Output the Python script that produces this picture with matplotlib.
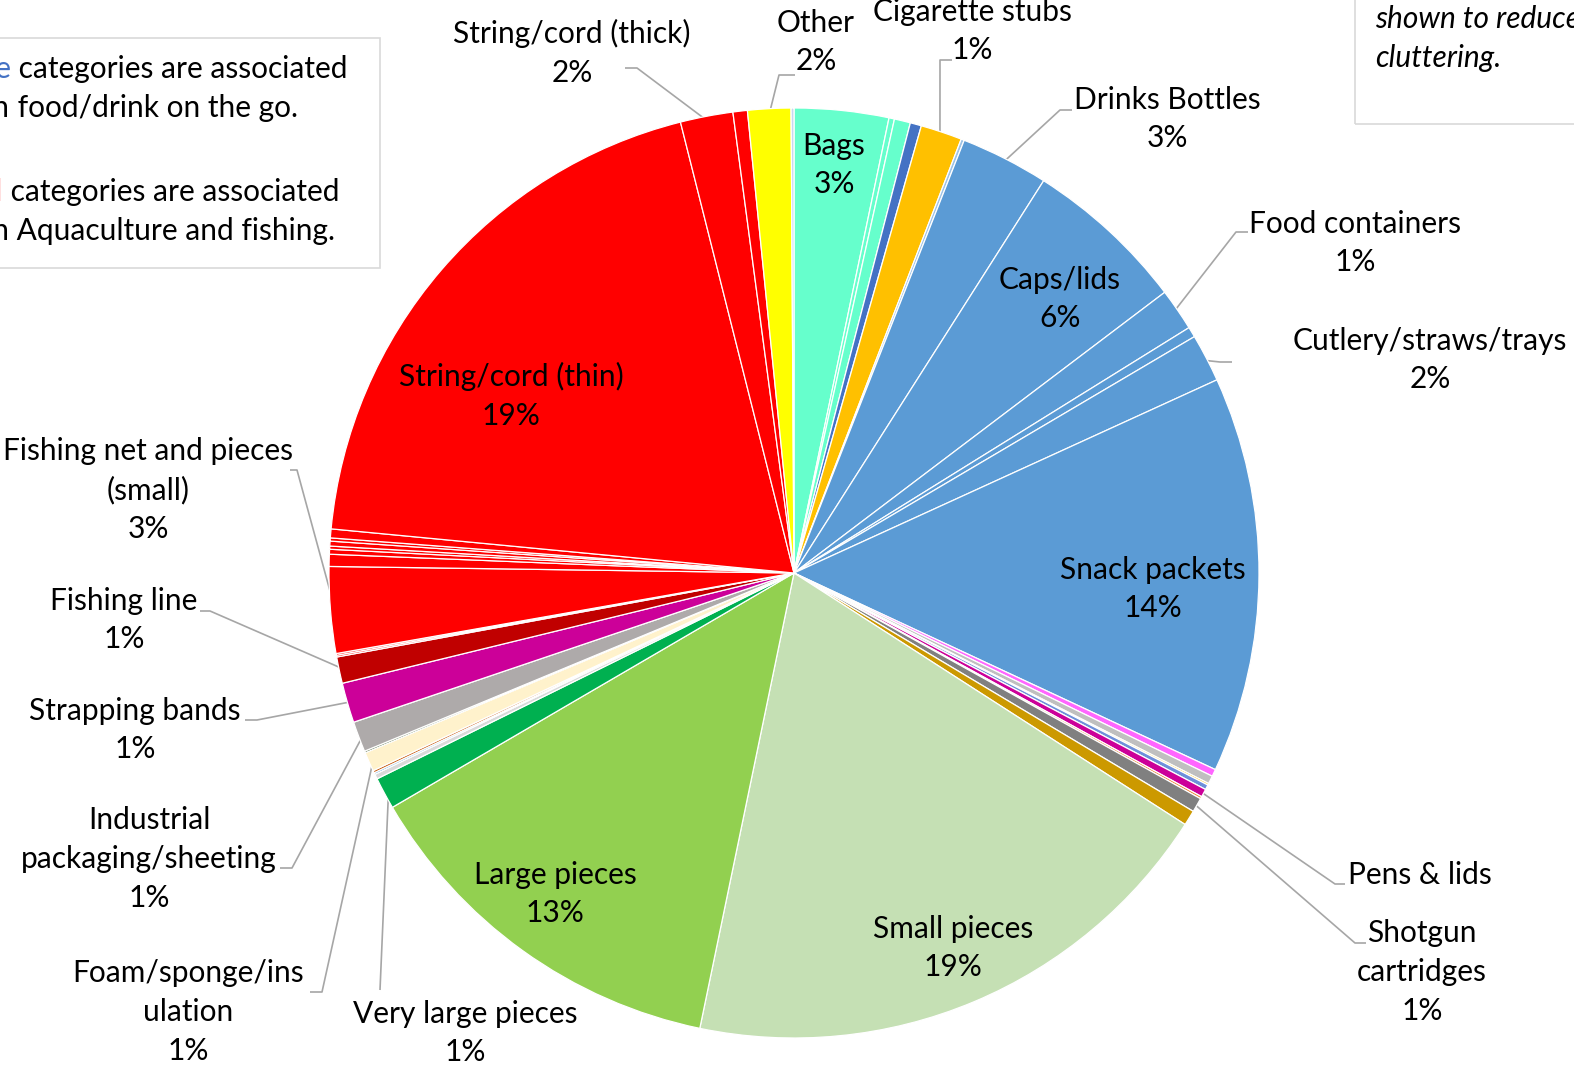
import numpy as np
import matplotlib
matplotlib.use("Agg")
import matplotlib.pyplot as plt

W, H = 1574, 1070
plt.rcParams['font.family'] = ['Lato', 'DejaVu Sans']

# ---- data (share of items, %), clockwise from 12 o'clock ----
categories = [
    "Bags", "Bags (minor a)", "Bags (minor b)", "Balloons", "Cigarette stubs", "Cups",
    "Drinks Bottles", "Caps/lids", "Food containers", "Lolly sticks", "Cutlery/straws/trays",
    "Snack packets", "Cotton buds", "Sanitary", "Lighters", "Toys", "Pens & lids", "Rope",
    "Shotgun cartridges", "Sheeting", "Small pieces", "Large pieces", "Very large pieces",
    "Gloves", "Tape", "Pot pieces", "Foam/sponge/insulation", "Netting", "Industrial packaging/sheeting",
    "Strapping bands", "Fishing line", "Floats", "Crates", "Fishing net and pieces (small)",
    "Fishing net (medium)", "Fishing net (large)", "Lobster pots", "Oyster bags", "Mussel nets",
    "Tags", "String/cord (thin)", "String/cord (thick)", "Rope (large)", "Other", "Unknown",
]
values = [
    3.28, 0.19, 0.56, 0.39, 1.44, 0.11,
    3.06, 5.67, 1.47, 0.36, 1.67,
    13.78, 0.25, 0.28, 0.06, 0.17, 0.28, 0.08,
    0.50, 0.53, 19.17, 13.36, 1.11,
    0.17, 0.06, 0.08, 0.67, 0.06, 1.06,
    1.39, 0.92, 0.06, 0.06, 3.00,
    0.42, 0.17, 0.11, 0.17, 0.11,
    0.31, 19.58, 1.83, 0.50, 1.50, 0.10,
]
colors = [
    "#66FFCC", "#66FFCC", "#66FFCC", "#4472C4", "#FFC000", "#9DC3E6",
    "#5B9BD5", "#5B9BD5", "#5B9BD5", "#5B9BD5", "#5B9BD5",
    "#5B9BD5", "#FF66FF", "#BFBFBF", "#FFC000", "#6D8FD9", "#CC0099", "#ED7D31",
    "#808080", "#CC9900", "#C5E0B4", "#92D050", "#00B050",
    "#D9D9D9", "#5B9BD5", "#C55A11", "#FFF2CC", "#375623", "#AEAAAA",
    "#CC0099", "#C00000", "#FF0000", "#FF0000", "#FF0000",
    "#FF0000", "#FF0000", "#FF0000", "#FF0000", "#FF0000",
    "#FF0000", "#FF0000", "#FF0000", "#FF0000", "#FFFF00", "#C9D7F0",
]

# labels drawn inside the pie: (category, text, pixel position)
inside_labels = [
    ("Bags", "Bags\n3%", (834, 165)),
    ("Caps/lids", "Caps/lids\n6%", (1060, 299)),
    ("Snack packets", "Snack packets\n14%", (1153, 589)),
    ("Small pieces", "Small pieces\n19%", (953, 948)),
    ("Large pieces", "Large pieces\n13%", (555, 894)),
    ("String/cord (thin)", "String/cord (thin)\n19%", (511, 396)),
]
# labels outside with leader lines: (category, text, text pos px, leader elbow points px)
outside_labels = [
    ("String/cord (thick)", "String/cord (thick)\n2%", (572, 53), [(637, 68), (625, 68)]),
    ("Other", "Other\n2%", (816, 42), [(779, 75), (795, 75)]),
    ("Cigarette stubs", "Cigarette stubs\n1%", (972, 31), [(940, 60), (952, 60)]),
    ("Drinks Bottles", "Drinks Bottles\n3%", (1167, 119), [(1060, 110), (1072, 110)]),
    ("Food containers", "Food containers\n1%", (1355, 243), [(1236, 232), (1248, 232)]),
    ("Cutlery/straws/trays", "Cutlery/straws/trays\n2%", (1430, 360), [(1220, 362), (1232, 362)]),
    ("Pens & lids", "Pens & lids", (1420, 875), [(1335, 884), (1345, 884)]),
    ("Shotgun cartridges", "Shotgun\ncartridges\n1%", (1422, 972), [(1355, 943), (1366, 943)]),
    ("Fishing net and pieces (small)", "Fishing net and pieces\n(small)\n3%", (148, 490), [(297, 470), (290, 470)]),
    ("Fishing line", "Fishing line\n1%", (124, 620), [(210, 611), (200, 611)]),
    ("Strapping bands", "Strapping bands\n1%", (135, 730), [(257, 720), (245, 720)]),
    ("Industrial packaging/sheeting", "Industrial\npackaging/sheeting\n1%", (149, 859), [(292, 868), (280, 868)]),
    ("Foam/sponge/insulation", "Foam/sponge/ins\nulation\n1%", (188, 1012), [(322, 992), (310, 992)]),
    ("Very large pieces", "Very large pieces\n1%", (465, 1033), [(380, 990)]),
]

CX, CY, R = 794, 573, 465
FS = 21.5
LS = 1.47
LEADER = "#A6A6A6"


def P(x, y):
    return x, H - y


fig = plt.figure(figsize=(W / 100, H / 100), dpi=100)
ax = fig.add_axes([0, 0, 1, 1])
wedges, _ = ax.pie(values, colors=colors, startangle=90, counterclock=False,
                   center=P(CX, CY), radius=R,
                   wedgeprops=dict(edgecolor="white", linewidth=0.9))
ax.set_xlim(0, W)
ax.set_ylim(0, H)
ax.set_aspect("equal")
ax.axis("off")

idx = {c: i for i, c in enumerate(categories)}

for cat, txt, (x, y) in inside_labels:
    ax.text(*P(x, y), txt, ha="center", va="center", fontsize=FS,
            linespacing=LS, color="black")

for cat, txt, (x, y), elbows in outside_labels:
    w = wedges[idx[cat]]
    th = np.deg2rad((w.theta1 + w.theta2) / 2)
    cx, cy = P(CX, CY)
    ax_x = cx + R * 0.99 * np.cos(th)
    ax_y = cy + R * 0.99 * np.sin(th)
    xs = [ax_x] + [P(*e)[0] for e in elbows]
    ys = [ax_y] + [P(*e)[1] for e in elbows]
    ax.plot(xs, ys, color=LEADER, lw=1.2, solid_capstyle="butt", zorder=0.5)
    ax.text(*P(x, y), txt, ha="center", va="center", fontsize=FS,
            linespacing=LS, color="black", zorder=3)

# left note box
ax.add_patch(plt.Rectangle(P(-20, 268), 400, 230, fill=False,
                           edgecolor="#D9D9D9", lw=1.2, clip_on=False))
ax.text(*P(11, 69), "Blue", ha="right", va="center", fontsize=FS, color="#4472C4")
ax.text(*P(11, 69), " categories are associated", ha="left", va="center", fontsize=FS)
ax.text(*P(10, 108), "with", ha="right", va="center", fontsize=FS)
ax.text(*P(10, 108), " food/drink on the go.", ha="left", va="center", fontsize=FS)
ax.text(*P(3, 192), "Red", ha="right", va="center", fontsize=FS, color="#FF0000")
ax.text(*P(3, 192), " categories are associated", ha="left", va="center", fontsize=FS)
ax.text(*P(9, 231), "with", ha="right", va="center", fontsize=FS)
ax.text(*P(9, 231), " Aquaculture and fishing.", ha="left", va="center", fontsize=FS)

# right note box
ax.add_patch(plt.Rectangle(P(1355, 124), 300, 200, fill=False,
                           edgecolor="#D9D9D9", lw=1.2, clip_on=False))
ax.text(*P(1375, 19), "shown to reduce", ha="left", va="center", fontsize=FS, style="italic")
ax.text(*P(1375, 58), "cluttering.", ha="left", va="center", fontsize=FS, style="italic")

fig.savefig("out.png", dpi=100, facecolor="white")
